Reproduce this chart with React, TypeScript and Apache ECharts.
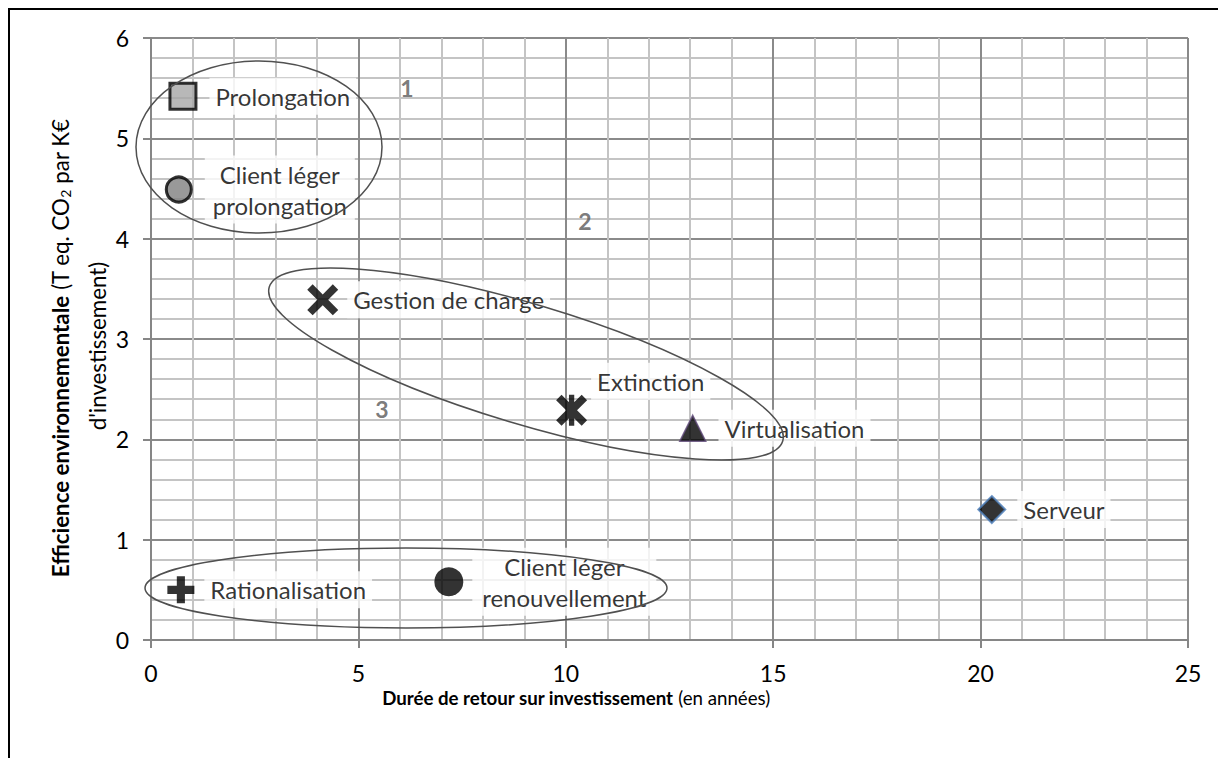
import React, { useEffect, useRef } from 'react';
import * as echarts from 'echarts';

// ---- data ----
const pointNames = [
  'Prolongation',
  'Client léger\nprolongation',
  'Gestion de charge',
  'Extinction',
  'Virtualisation',
  'Serveur',
  'Rationalisation',
  'Client léger\nrenouvellement',
];
const paybackYears = [0.77, 0.67, 4.14, 10.14, 13.06, 20.27, 0.72, 7.18];
const efficiency = [5.42, 4.49, 3.39, 2.29, 2.11, 1.3, 0.5, 0.58];

const zoneNames = ['1', '2', '3'];
const zoneX = [6.17, 10.46, 5.57];
const zoneY = [5.5, 4.18, 2.3];

const xMin = 0;
const xMax = 25;
const xStep = 5;
const yMin = 0;
const yMax = 6;
const yStep = 1;

const xTitleBold = 'Durée de retour sur investissement';
const xTitleRest = ' (en années)';
const yTitleBold = 'Efficience environnementale';
const yTitleRest1 = ' (T eq. CO';
const yTitleSub = '2';
const yTitleRest2 = ' par K€';
const yTitleLine2 = "d'investissement)";

// ---- styles ----
const FONT = 'Lato';
const Y_TITLE_SIZE = 22.3;
const X_PATH =
  'path://M0,3.5L3.5,0L10,6.5L16.5,0L20,3.5L13.5,10L20,16.5L16.5,20L10,13.5L3.5,20L0,16.5L6.5,10Z';
const STAR_PATH =
  'path://M0,3.5L3.5,0L10,6.5L16.5,0L20,3.5L13.5,10L20,16.5L16.5,20L10,13.5L3.5,20L0,16.5L6.5,10Z M8.3,0H11.7V20H8.3Z';
const PLUS_PATH = 'path://M7,0H13V7H20V13H13V20H7V13H0V7H7Z';

const markerStyles: any[] = [
  { symbol: 'rect', size: 26, item: { color: '#a6a6a6', borderColor: '#000', borderWidth: 3 } },
  { symbol: 'circle', size: 25, item: { color: '#808080', borderColor: '#000', borderWidth: 3 } },
  { symbol: X_PATH, size: 31, item: { color: '#000' } },
  { symbol: STAR_PATH, size: 31, item: { color: '#000' } },
  { symbol: 'triangle', size: 26, item: { color: '#000', borderColor: '#604a7b', borderWidth: 1.5 } },
  { symbol: 'diamond', size: 27, item: { color: '#000', borderColor: '#4f81bd', borderWidth: 2 } },
  { symbol: PLUS_PATH, size: 27, item: { color: '#000' } },
  { symbol: 'circle', size: 29, item: { color: '#000' } },
];

const labelTweaks: any[] = [
  { distance: 12 },
  { distance: 12, width: 138 },
  { distance: 9 },
  { distance: 4, offset: [0, -29] },
  { distance: 12 },
  { distance: 11 },
  { distance: 10 },
  { distance: 9, width: 172 },
];

export default function App() {
  const ref = useRef<HTMLDivElement>(null);

  useEffect(() => {
    document.documentElement.style.overflow = 'hidden';
    document.body.style.overflow = 'hidden';
    if (!ref.current) return;
    const chart = echarts.init(ref.current, undefined, { renderer: 'svg' });

    const pointSeries = pointNames.map((name, i) => {
      const m = markerStyles[i];
      const t = labelTweaks[i];
      const lines = name.split('\n');
      const multi = lines.length > 1;
      return {
        type: 'scatter',
        name,
        z: 5,
        symbol: m.symbol,
        symbolSize: m.size,
        symbolKeepAspect: true,
        itemStyle: m.item,
        data: [[paybackYears[i], efficiency[i]]],
        label: {
          show: true,
          position: 'right',
          distance: t.distance,
          offset: t.offset || [0, 0],
          formatter: multi ? lines.map((l) => '{c|' + l + '}').join('\n') : name,
          color: '#000',
          fontFamily: FONT,
          fontSize: 24,
          lineHeight: 31,
          backgroundColor: '#fff',
          padding: [3, 6, 3, 6],
          rich: multi
            ? {
                c: {
                  width: t.width,
                  align: 'center',
                  fontFamily: FONT,
                  fontSize: 24,
                  lineHeight: 31,
                  color: '#000',
                },
              }
            : undefined,
        },
      };
    });

    const zoneSeries = {
      type: 'scatter',
      name: 'zones',
      z: 4,
      symbol: 'circle',
      symbolSize: 1,
      itemStyle: { color: 'rgba(0,0,0,0)' },
      data: zoneNames.map((n, i) => ({ name: n, value: [zoneX[i], zoneY[i]] })),
      label: {
        show: true,
        position: 'inside',
        formatter: '{b}',
        color: '#595959',
        fontFamily: FONT,
        fontWeight: 'bold',
        fontSize: 23,
      },
    };

    const ellipseStyle = { fill: 'none', stroke: '#505050', lineWidth: 1.5 };

    chart.setOption({
      animation: false,
      grid: { left: 141, top: 28, width: 1037, height: 602 },
      xAxis: {
        type: 'value',
        min: xMin,
        max: xMax,
        interval: xStep,
        axisLine: { show: true, lineStyle: { color: '#868686', width: 2 } },
        axisTick: { show: true, length: 8, lineStyle: { color: '#868686', width: 2 } },
        axisLabel: { margin: 21, color: '#000', fontFamily: FONT, fontSize: 23 },
        splitLine: { show: true, lineStyle: { color: '#8a8a8a', width: 2 } },
        minorTick: { show: false, splitNumber: 5 },
        minorSplitLine: { show: true, lineStyle: { color: '#c4c4c4', width: 2 } },
      },
      yAxis: {
        type: 'value',
        min: yMin,
        max: yMax,
        interval: yStep,
        axisLine: { show: true, lineStyle: { color: '#868686', width: 2 } },
        axisTick: { show: true, length: 8, lineStyle: { color: '#868686', width: 2 } },
        axisLabel: { margin: 22, color: '#000', fontFamily: FONT, fontSize: 23 },
        splitLine: { show: true, lineStyle: { color: '#8a8a8a', width: 2 } },
        minorTick: { show: false, splitNumber: 5 },
        minorSplitLine: { show: true, lineStyle: { color: '#c4c4c4', width: 2 } },
      },
      series: [zoneSeries, ...pointSeries],
      graphic: [
        {
          type: 'ellipse',
          z: 100,
          silent: true,
          x: 249,
          y: 137,
          shape: { cx: 0, cy: 0, rx: 123, ry: 86 },
          style: ellipseStyle,
        },
        {
          type: 'ellipse',
          z: 100,
          silent: true,
          x: 516,
          y: 354,
          rotation: -0.2915,
          shape: { cx: 0, cy: 0, rx: 268, ry: 60 },
          style: ellipseStyle,
        },
        {
          type: 'ellipse',
          z: 100,
          silent: true,
          x: 396,
          y: 578,
          shape: { cx: 0, cy: 0, rx: 261, ry: 40 },
          style: ellipseStyle,
        },
        {
          type: 'text',
          z: 100,
          x: 566,
          y: 688,
          style: {
            text: '{b|' + xTitleBold + '}{r|' + xTitleRest + '}',
            align: 'center',
            verticalAlign: 'middle',
            fill: '#000',
            fontFamily: FONT,
            fontSize: 18.7,
            rich: {
              b: { fontWeight: 'bold', fontFamily: FONT, fontSize: 18.7, fill: '#000' },
              r: { fontFamily: FONT, fontSize: 18.7, fill: '#000' },
            },
          },
        },
        {
          type: 'text',
          z: 100,
          x: 50,
          y: 338,
          rotation: Math.PI / 2,
          style: {
            text:
              '{b|' + yTitleBold + '}{r|' + yTitleRest1 + '}{s|' + yTitleSub + '}{r|' + yTitleRest2 + '}',
            align: 'center',
            verticalAlign: 'middle',
            fill: '#000',
            fontFamily: FONT,
            fontSize: Y_TITLE_SIZE,
            rich: {
              b: { fontWeight: 'bold', fontFamily: FONT, fontSize: Y_TITLE_SIZE, fill: '#000' },
              r: { fontFamily: FONT, fontSize: Y_TITLE_SIZE, fill: '#000' },
              s: { fontFamily: FONT, fontSize: 14, fill: '#000', padding: [10, 0, 0, 0] },
            },
          },
        },
        {
          type: 'text',
          z: 100,
          x: 87,
          y: 336,
          rotation: Math.PI / 2,
          style: {
            text: yTitleLine2,
            align: 'center',
            verticalAlign: 'middle',
            fill: '#000',
            fontFamily: FONT,
            fontSize: Y_TITLE_SIZE,
          },
        },
      ],
    });

    return () => {
      chart.dispose();
    };
  }, []);

  return (
    <div
      style={{
        position: 'relative',
        width: 1230,
        height: 760,
        borderTop: '2px solid #000',
        borderLeft: '2px solid #000',
        background: '#fff',
      }}
    >
      <div ref={ref} style={{ width: 1216, height: 748 }} />
    </div>
  );
}
